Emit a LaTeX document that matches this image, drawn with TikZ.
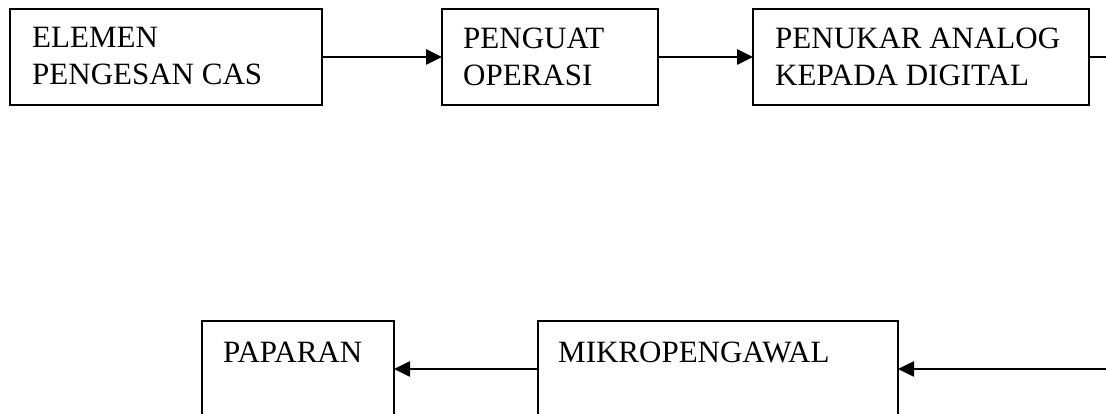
\documentclass[tikz,border=0pt]{standalone}
\usepackage{fontspec}
\setmainfont{Liberation Serif}
\usetikzlibrary{arrows.meta}
\tikzset{
  blockbox/.style={draw=black, line width=1.8pt, rectangle, inner sep=0pt, outer sep=0pt, anchor=north west},
  lbl/.style={anchor=north west, inner sep=0pt, align=left, font=\fontsize{31}{37}\selectfont},
  conn/.style={line width=2.6pt, -{Triangle[length=16pt,width=15pt]}},
  plain/.style={line width=1.6pt}
}
\begin{document}
\begin{tikzpicture}[x=1pt,y=-1pt]
\useasboundingbox (0,0) rectangle (1106,414);
\clip (0,0) rectangle (1106,414);
% top row
\node[blockbox, minimum width=312pt, minimum height=96pt] (b1) at (10,9) {};
\node[blockbox, minimum width=216pt, minimum height=96pt] (b2) at (442,9) {};
\node[blockbox, minimum width=336pt, minimum height=96pt] (b3) at (753,9) {};
\node[lbl] (t1) at (32,27.5) {ELEMEN\\PENGESAN CAS};
\node[lbl] (t2) at (463,27.5) {PENGUAT\\OPERASI};
\node[lbl] (t3) at (775,27.5) {PENUKAR ANALOG\\KEPADA DIGITAL};
% bottom row
\node[blockbox, minimum width=192pt, minimum height=96pt] (b5) at (202,321) {};
\node[blockbox, minimum width=360pt, minimum height=96pt] (b4) at (538,321) {};
\node[lbl] (t5) at (223,341.5) {PAPARAN};
\node[lbl] (t4) at (558,341.5) {MIKROPENGAWAL};
% connectors
\coordinate (r1) at (1115,57);
\coordinate (r2) at (1115,369);
\draw[conn] (b1.east) -- (b2.west);
\draw[conn] (b2.east) -- (b3.west);
\draw[plain] (b3.east) -- (b3.east -| r1);
\draw[conn] (b4.east -| r2) -- (b4.east);
\draw[conn] (b4.west) -- (b5.east);
\end{tikzpicture}
\end{document}
